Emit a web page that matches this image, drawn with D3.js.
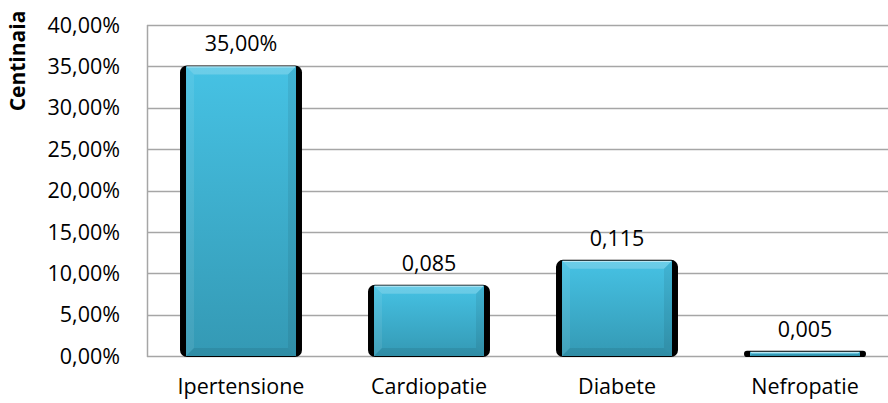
<!DOCTYPE html>
<html>
<head>
<meta charset="utf-8">
<script src="https://cdn.jsdelivr.net/npm/d3@7"></script>
<style>
  html, body { margin: 0; padding: 0; background: #fff; }
  svg { display: block; }
  text { font-family: "Open Sans", "Noto Sans", sans-serif; fill: #000; }
</style>
</head>
<body>
<svg id="chart" width="888" height="403"></svg>
<script>
// Data
const categories = ["Ipertensione", "Cardiopatie", "Diabete", "Nefropatie"];
const values = [0.35, 0.085, 0.115, 0.005];
const valueLabels = ["35,00%", "0,085", "0,115", "0,005"];
const yTicks = [0, 0.05, 0.10, 0.15, 0.20, 0.25, 0.30, 0.35, 0.40];
const yTickLabels = ["0,00%", "5,00%", "10,00%", "15,00%", "20,00%", "25,00%", "30,00%", "35,00%", "40,00%"];
const yTitle = "Centinaia";

const svg = d3.select("#chart");
const plotLeft = 147, plotRight = 899, plotTop = 25, plotBottom = 356;
const fontSize = 21.5;

const x = d3.scaleBand().domain(categories).range([plotLeft, plotRight]).paddingInner(0.415).paddingOuter(0.2075);
const y = d3.scaleLinear().domain([0, 0.40]).range([plotBottom, plotTop]);

// Gradients
const defs = svg.append("defs");
const body = defs.append("linearGradient").attr("id", "body").attr("x1", 0).attr("y1", 0).attr("x2", 0).attr("y2", 1);
body.append("stop").attr("offset", "0%").attr("stop-color", "#46c2e4");
body.append("stop").attr("offset", "100%").attr("stop-color", "#3499b4");

// Gridlines
svg.append("g").selectAll("line").data(yTicks).join("line")
  .attr("x1", plotLeft).attr("x2", 888)
  .attr("y1", d => Math.round(y(d)) + 0.5).attr("y2", d => Math.round(y(d)) + 0.5)
  .attr("stroke", "#a6a6a6").attr("stroke-width", 1.5);

// Left axis line
svg.append("line").attr("x1", plotLeft + 0.5).attr("x2", plotLeft + 0.5)
  .attr("y1", plotTop).attr("y2", plotBottom + 1)
  .attr("stroke", "#a6a6a6").attr("stroke-width", 1.5);

// Tick labels
svg.append("g").selectAll("text").data(yTicks).join("text")
  .attr("x", 120).attr("y", d => y(d))
  .attr("dy", "0.36em").attr("text-anchor", "end")
  .attr("font-size", fontSize)
  .text((d, i) => yTickLabels[i]);

// Axis title
svg.append("text")
  .attr("transform", "translate(25,61) rotate(-90)")
  .attr("text-anchor", "middle").attr("font-size", 21).attr("font-weight", "bold")
  .text(yTitle);

// Bars with bevel
const bars = svg.append("g").selectAll("g").data(categories).join("g");
bars.each(function (c, i) {
  const g = d3.select(this);
  const x0 = x(c), w = x.bandwidth();
  const y0 = y(values[i]), y1 = y(0);
  const h = y1 - y0;
  const b = Math.min(8, h / 2, w / 2);
  // shadow
  g.append("rect").attr("x", x0 - 6).attr("y", y0 - 1)
    .attr("width", w + 12).attr("height", h + 2).attr("rx", Math.min(7, h / 2 + 1))
    .attr("fill", "#000");
  // body
  g.append("rect").attr("x", x0).attr("y", y0).attr("width", w).attr("height", h)
    .attr("fill", "url(#body)");
  // bevel faces
  const faces = [
    { pts: [[x0, y0], [x0 + w, y0], [x0 + w - b, y0 + b], [x0 + b, y0 + b]], fill: "#fff", op: 0.2 },
    { pts: [[x0, y0], [x0 + b, y0 + b], [x0 + b, y1 - b], [x0, y1]], fill: "#fff", op: 0.08 },
    { pts: [[x0 + w, y0], [x0 + w, y1], [x0 + w - b, y1 - b], [x0 + w - b, y0 + b]], fill: "#000", op: 0.07 },
    { pts: [[x0, y1], [x0 + b, y1 - b], [x0 + w - b, y1 - b], [x0 + w, y1]], fill: "#000", op: 0.08 }
  ];
  faces.forEach(f => {
    g.append("polygon").attr("points", f.pts.map(p => p.join(",")).join(" "))
      .attr("fill", f.fill).attr("fill-opacity", f.op);
  });
  // top highlight
  g.append("line").attr("x1", x0 + 1).attr("x2", x0 + w - 1)
    .attr("y1", y0 + 0.5).attr("y2", y0 + 0.5)
    .attr("stroke", "#fff").attr("stroke-opacity", 0.6).attr("stroke-width", 1);
  // value label
  g.append("text").attr("x", x0 + w / 2).attr("y", y0 - 15)
    .attr("text-anchor", "middle").attr("font-size", fontSize)
    .text(valueLabels[i]);
});

// Category labels
svg.append("g").selectAll("text").data(categories).join("text")
  .attr("x", d => x(d) + x.bandwidth() / 2).attr("y", 394)
  .attr("text-anchor", "middle").attr("font-size", fontSize)
  .text(d => d);
</script>
</body>
</html>
